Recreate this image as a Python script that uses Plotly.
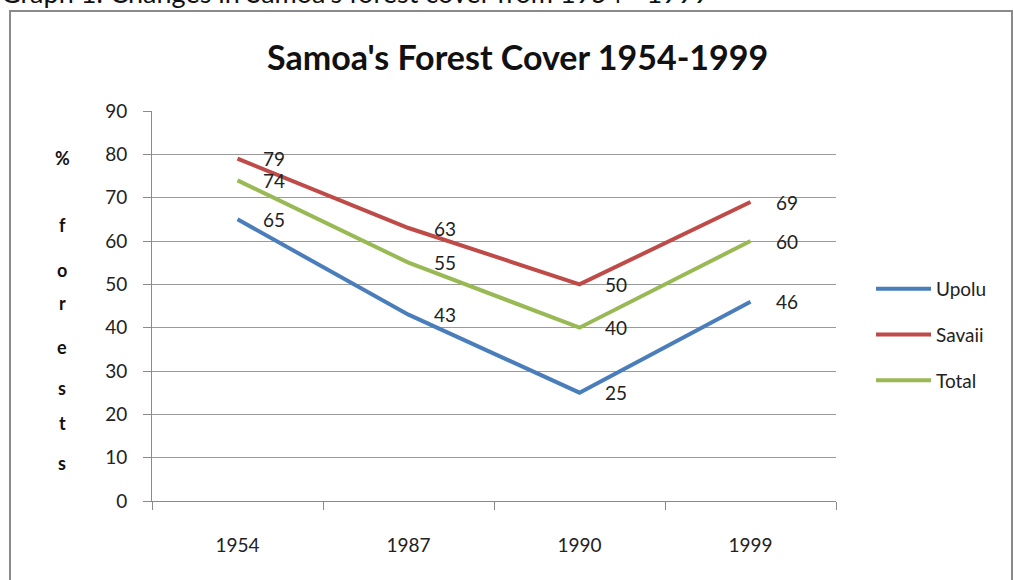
import plotly.graph_objects as go

years = ["1954", "1987", "1990", "1999"]
upolu = [65, 43, 25, 46]
savaii = [79, 63, 50, 69]
total = [74, 55, 40, 60]

series = [
    ("Upolu", upolu, "#4A7EBB"),
    ("Savaii", savaii, "#BE4B48"),
    ("Total", total, "#98B954"),
]

FONT = "Lato, 'Open Sans', sans-serif"
W, H = 1013, 580
L, R, T, B = 152, 177, 111, 79
PW, PH = W - L - R, H - T - B


def px_x(x):
    return (x - L) / PW


def px_y(y):
    return (H - B - y) / PH


idx = list(range(len(years)))

fig = go.Figure()
for i, (name, vals, col) in enumerate(series):
    fig.add_trace(go.Scatter(
        x=idx, y=vals, name=name, mode="lines",
        line=dict(color=col, width=4),
        legendgroup=f"g{i}",
    ))

annotations = []
for name, vals, col in series:
    for k, v in zip(idx, vals):
        annotations.append(dict(
            x=k, y=v, xref="x", yref="y", text=str(v), showarrow=False,
            xanchor="left", yanchor="middle", xshift=23,
            font=dict(family=FONT, size=19, color="#222"),
        ))

# vertical stacked axis label "% forests"
ylabel_chars = ["%", "f", "o", "r", "e", "s", "t", "s"]
ylabel_pix = [158, 225, 270, 303, 347, 388, 423, 463]
for ch, yp in zip(ylabel_chars, ylabel_pix):
    annotations.append(dict(
        x=px_x(62), y=px_y(yp), xref="paper", yref="paper", text=ch,
        showarrow=False, xanchor="center", yanchor="middle",
        font=dict(family=FONT, size=18, color="#111", weight="bold"),
    ))

annotations.append(dict(
    x=px_x(517), y=px_y(56), xref="paper", yref="paper",
    text="Samoa's Forest Cover 1954-1999", showarrow=False,
    xanchor="center", yanchor="middle",
    font=dict(family=FONT, size=34, color="#111", weight="bold"),
))
annotations.append(dict(
    x=px_x(-1), y=px_y(-7), xref="paper", yref="paper",
    text="Graph 1: Changes in Samoa's forest cover from 1954 - 1999",
    showarrow=False, xanchor="left", yanchor="middle",
    font=dict(family=FONT, size=27, color="#111"),
))

shapes = [dict(
    type="rect", xref="paper", yref="paper",
    x0=px_x(10), x1=px_x(1012), y0=px_y(590), y1=px_y(11),
    line=dict(color="#8a8a8a", width=2), fillcolor="rgba(0,0,0,0)",
)]

fig.update_layout(
    width=W, height=H,
    margin=dict(l=L, r=R, t=T, b=B, autoexpand=False),
    paper_bgcolor="white", plot_bgcolor="white",
    font=dict(family=FONT, size=18, color="#222"),
    showlegend=True,
    legend=dict(
        x=px_x(871), y=px_y(270), xanchor="left", yanchor="top",
        font=dict(family=FONT, size=19, color="#222"),
        tracegroupgap=18, bgcolor="rgba(0,0,0,0)", itemwidth=55,
    ),
    xaxis=dict(
        range=[-0.5, 3.5], tickmode="array", tickvals=idx, ticktext=years,
        showgrid=False, showline=True, automargin=False,
        linecolor="#8a8a8a", linewidth=1, ticks="",
        ticklabelstandoff=27, tickfont=dict(family=FONT, size=19, color="#222"),
        zeroline=False,
        minor=dict(tickvals=[-0.5, 0.5, 1.5, 2.5, 3.5], ticks="outside",
                   ticklen=8, tickcolor="#8a8a8a", showgrid=False),
    ),
    yaxis=dict(
        range=[0, 90], dtick=10, tick0=0, showgrid=True, automargin=False,
        gridcolor="#9a9a9a", gridwidth=1, showline=True,
        linecolor="#8a8a8a", linewidth=1, ticks="outside",
        ticklen=8, tickcolor="#8a8a8a", ticklabelstandoff=12,
        tickfont=dict(family=FONT, size=19, color="#222"),
        zeroline=False,
    ),
    annotations=annotations,
    shapes=shapes,
)

fig.write_html(
    "out.html",
    config={"displayModeBar": False},
    post_script="document.body.style.margin='0';document.body.style.overflow='hidden';",
)
